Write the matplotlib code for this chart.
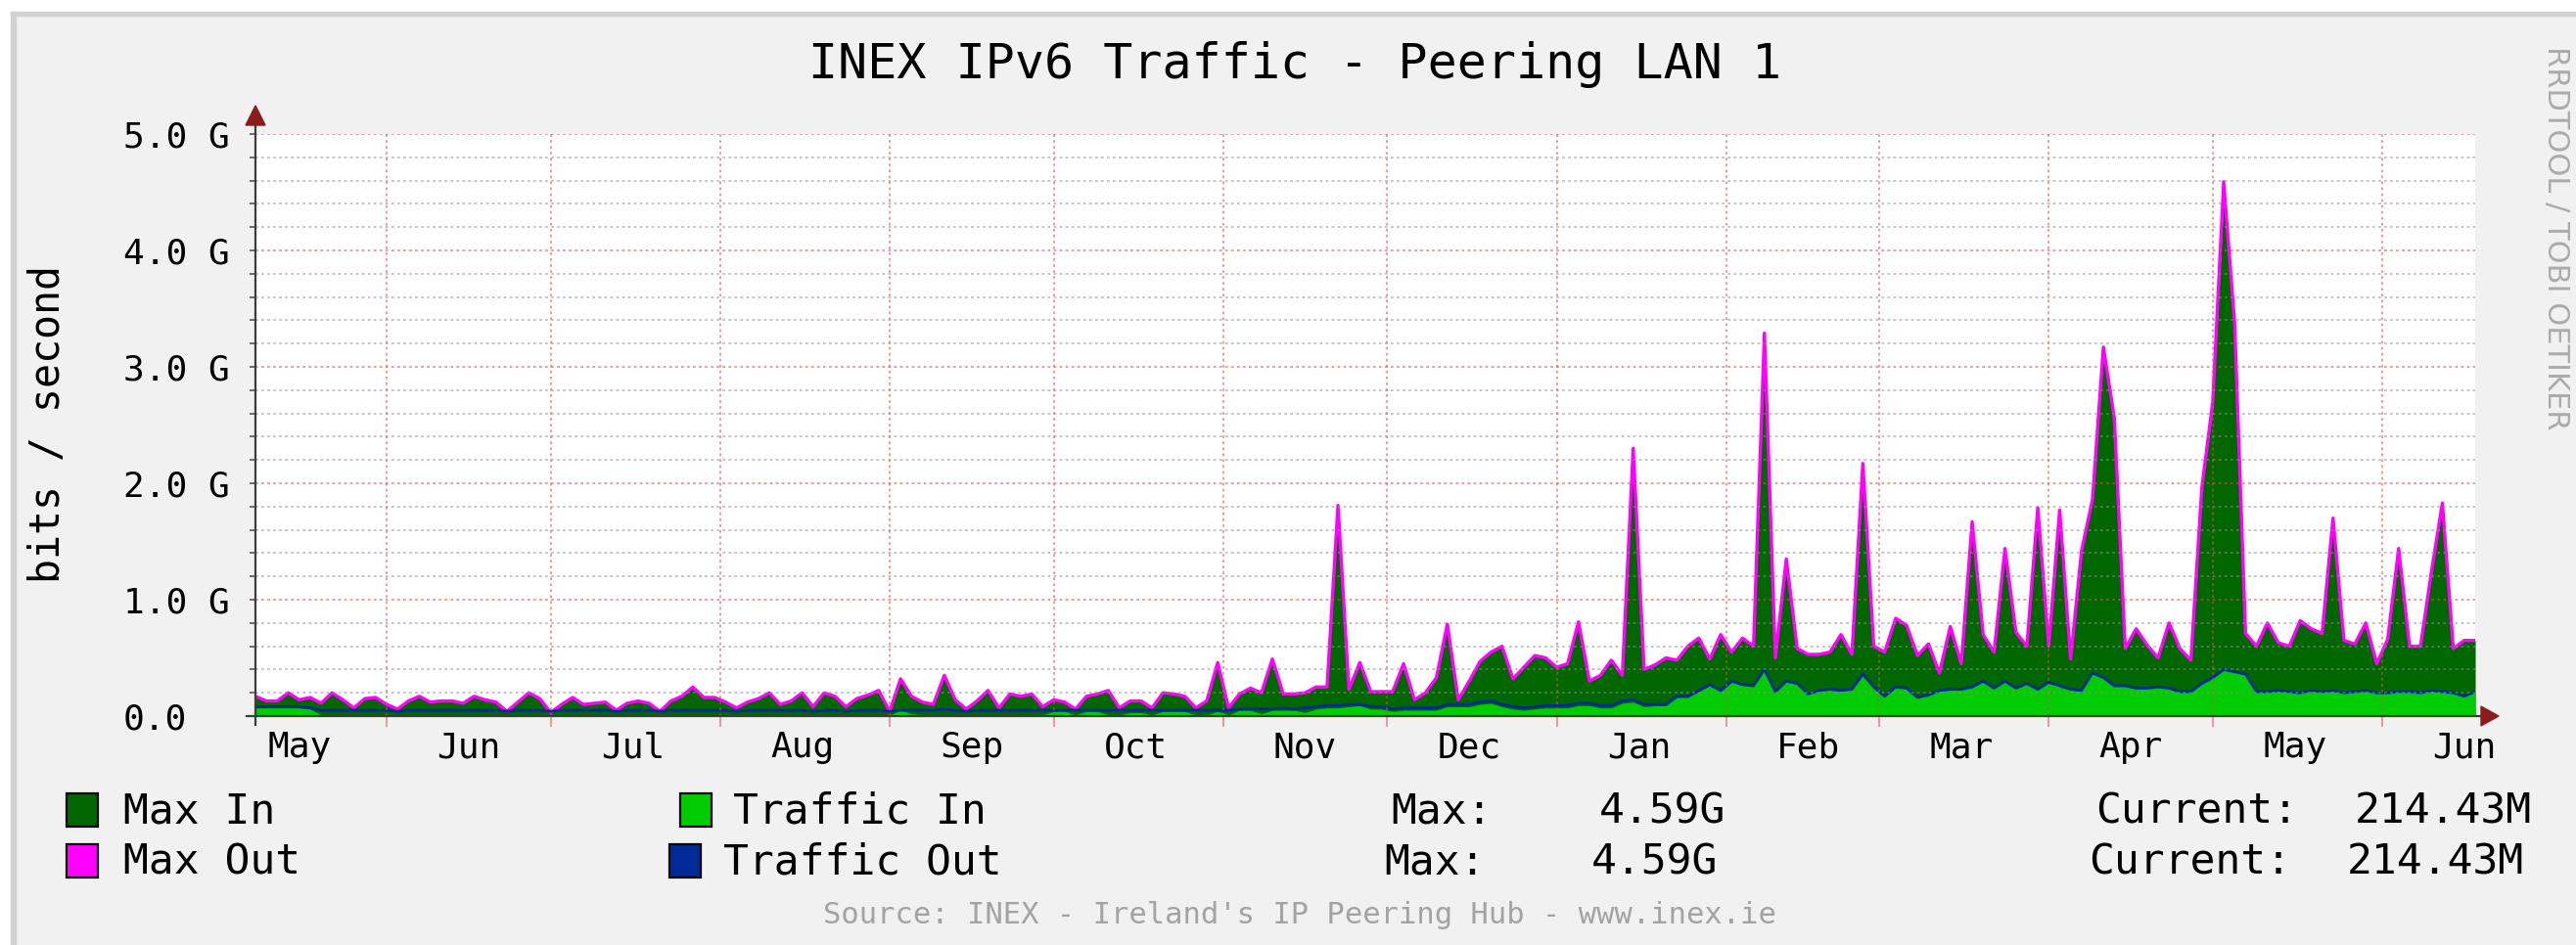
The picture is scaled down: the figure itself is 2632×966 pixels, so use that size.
import numpy as np
import matplotlib
matplotlib.use('Agg')
import matplotlib.pyplot as plt
import matplotlib.dates as mdates
import matplotlib.transforms as mtransforms
from matplotlib.patches import Rectangle, Polygon
from matplotlib.ticker import FixedLocator, MultipleLocator, NullFormatter

# ---------------- data (Gbit/s, one value every 2 days) ----------------
start_date = '2012-05-08'
step_days = 2

max_in = [
    0.17, 0.13, 0.13, 0.20, 0.14, 0.16, 0.11, 0.20, 0.14, 0.07, 0.15, 0.16, 0.10, 0.06, 0.13, 0.17, 0.12,
    0.13, 0.13, 0.11, 0.17, 0.14, 0.12, 0.04, 0.12, 0.20, 0.15, 0.03, 0.10, 0.16, 0.10, 0.11, 0.12, 0.05,
    0.11, 0.13, 0.11, 0.04, 0.13, 0.17, 0.25, 0.16, 0.16, 0.12, 0.07, 0.12, 0.15, 0.20, 0.10, 0.13, 0.20,
    0.08, 0.20, 0.17, 0.08, 0.15, 0.18, 0.22, 0.04, 0.32, 0.17, 0.12, 0.10, 0.35, 0.14, 0.06, 0.13, 0.22,
    0.07, 0.19, 0.17, 0.19, 0.08, 0.14, 0.12, 0.06, 0.17, 0.19, 0.22, 0.07, 0.13, 0.13, 0.07, 0.20, 0.19,
    0.17, 0.07, 0.13, 0.46, 0.07, 0.19, 0.24, 0.20, 0.49, 0.19, 0.19, 0.20, 0.25, 0.25, 1.81, 0.23, 0.46,
    0.21, 0.21, 0.21, 0.45, 0.14, 0.20, 0.33, 0.79, 0.14, 0.30, 0.47, 0.55, 0.60, 0.32, 0.42, 0.52, 0.50,
    0.42, 0.45, 0.81, 0.30, 0.35, 0.48, 0.35, 2.30, 0.40, 0.44, 0.50, 0.48, 0.60, 0.67, 0.49, 0.70, 0.55,
    0.67, 0.60, 3.29, 0.50, 1.35, 0.58, 0.53, 0.53, 0.55, 0.70, 0.53, 2.17, 0.60, 0.55, 0.84, 0.78, 0.52,
    0.62, 0.37, 0.77, 0.45, 1.67, 0.70, 0.55, 1.44, 0.72, 0.60, 1.79, 0.60, 1.77, 0.49, 1.42, 1.86, 3.10,
    2.50, 0.58, 0.75, 0.61, 0.50, 0.80, 0.58, 0.48, 1.96, 2.65, 4.45, 3.30, 0.71, 0.60, 0.80, 0.63, 0.60,
    0.82, 0.75, 0.71, 1.70, 0.65, 0.62, 0.80, 0.45, 0.66, 1.44, 0.60, 0.60, 1.24, 1.80, 0.58, 0.65, 0.65,
]

max_out = [
    0.17, 0.13, 0.13, 0.20, 0.14, 0.16, 0.11, 0.20, 0.14, 0.07, 0.15, 0.16, 0.10, 0.06, 0.13, 0.17, 0.12,
    0.13, 0.13, 0.11, 0.17, 0.14, 0.12, 0.04, 0.12, 0.20, 0.15, 0.03, 0.10, 0.16, 0.10, 0.11, 0.12, 0.05,
    0.11, 0.13, 0.11, 0.04, 0.13, 0.17, 0.25, 0.16, 0.16, 0.12, 0.07, 0.12, 0.15, 0.20, 0.10, 0.13, 0.20,
    0.08, 0.20, 0.17, 0.08, 0.15, 0.18, 0.22, 0.04, 0.32, 0.17, 0.12, 0.10, 0.35, 0.14, 0.06, 0.13, 0.22,
    0.07, 0.19, 0.17, 0.19, 0.08, 0.14, 0.12, 0.06, 0.17, 0.19, 0.22, 0.07, 0.13, 0.13, 0.07, 0.20, 0.19,
    0.17, 0.07, 0.13, 0.46, 0.07, 0.19, 0.24, 0.20, 0.49, 0.19, 0.19, 0.20, 0.25, 0.25, 1.81, 0.23, 0.46,
    0.21, 0.21, 0.21, 0.45, 0.14, 0.20, 0.33, 0.79, 0.14, 0.30, 0.47, 0.55, 0.60, 0.32, 0.42, 0.52, 0.50,
    0.42, 0.45, 0.81, 0.30, 0.35, 0.48, 0.35, 2.30, 0.40, 0.44, 0.50, 0.48, 0.60, 0.67, 0.49, 0.70, 0.55,
    0.67, 0.60, 3.29, 0.50, 1.35, 0.58, 0.53, 0.53, 0.55, 0.70, 0.53, 2.17, 0.60, 0.55, 0.84, 0.78, 0.52,
    0.62, 0.37, 0.77, 0.45, 1.67, 0.70, 0.55, 1.44, 0.72, 0.60, 1.79, 0.60, 1.77, 0.49, 1.42, 1.86, 3.17,
    2.56, 0.58, 0.75, 0.61, 0.50, 0.80, 0.58, 0.48, 1.96, 2.70, 4.59, 3.38, 0.71, 0.60, 0.80, 0.63, 0.60,
    0.82, 0.75, 0.71, 1.70, 0.65, 0.62, 0.80, 0.45, 0.66, 1.44, 0.60, 0.60, 1.24, 1.83, 0.58, 0.65, 0.65,
]

traffic_in = [
    0.07, 0.07, 0.07, 0.07, 0.07, 0.06, 0.01, 0.01, 0.01, 0.01, 0.01, 0.01, 0.01, 0.01, 0.01, 0.01, 0.01,
    0.01, 0.01, 0.01, 0.01, 0.01, 0.01, 0.01, 0.01, 0.01, 0.01, 0.01, 0.01, 0.01, 0.01, 0.01, 0.01, 0.01,
    0.01, 0.01, 0.01, 0.01, 0.01, 0.01, 0.01, 0.01, 0.01, 0.01, 0.01, 0.01, 0.01, 0.01, 0.01, 0.01, 0.01,
    0.01, 0.01, 0.01, 0.01, 0.01, 0.01, 0.01, 0.01, 0.05, 0.02, 0.01, 0.01, 0.01, 0.01, 0.01, 0.01, 0.01,
    0.01, 0.01, 0.01, 0.01, 0.01, 0.04, 0.04, 0.01, 0.04, 0.04, 0.01, 0.01, 0.03, 0.03, 0.01, 0.04, 0.04,
    0.04, 0.01, 0.01, 0.04, 0.01, 0.05, 0.05, 0.02, 0.05, 0.05, 0.05, 0.03, 0.06, 0.07, 0.07, 0.08, 0.09,
    0.06, 0.06, 0.04, 0.05, 0.05, 0.05, 0.05, 0.08, 0.08, 0.08, 0.10, 0.11, 0.08, 0.06, 0.05, 0.06, 0.07,
    0.07, 0.07, 0.09, 0.09, 0.07, 0.07, 0.11, 0.12, 0.08, 0.09, 0.09, 0.16, 0.16, 0.21, 0.26, 0.21, 0.29,
    0.27, 0.26, 0.40, 0.21, 0.30, 0.28, 0.19, 0.22, 0.23, 0.22, 0.23, 0.36, 0.25, 0.17, 0.25, 0.24, 0.16,
    0.18, 0.22, 0.23, 0.23, 0.25, 0.30, 0.24, 0.30, 0.24, 0.28, 0.23, 0.29, 0.26, 0.23, 0.22, 0.37, 0.33,
    0.26, 0.26, 0.24, 0.24, 0.25, 0.24, 0.21, 0.21, 0.28, 0.33, 0.40, 0.38, 0.36, 0.21, 0.21, 0.22, 0.21,
    0.20, 0.22, 0.21, 0.22, 0.20, 0.21, 0.22, 0.20, 0.20, 0.21, 0.21, 0.20, 0.22, 0.21, 0.20, 0.17, 0.21,
]

traffic_out = [
    0.08, 0.08, 0.08, 0.08, 0.08, 0.07, 0.05, 0.05, 0.05, 0.05, 0.05, 0.05, 0.05, 0.04, 0.05, 0.05, 0.05,
    0.05, 0.05, 0.05, 0.05, 0.05, 0.05, 0.04, 0.05, 0.05, 0.05, 0.04, 0.05, 0.05, 0.05, 0.05, 0.05, 0.04,
    0.05, 0.05, 0.05, 0.04, 0.05, 0.05, 0.05, 0.05, 0.05, 0.05, 0.04, 0.05, 0.05, 0.05, 0.05, 0.05, 0.05,
    0.04, 0.05, 0.05, 0.04, 0.05, 0.05, 0.05, 0.04, 0.05, 0.05, 0.05, 0.05, 0.06, 0.05, 0.04, 0.05, 0.05,
    0.05, 0.05, 0.05, 0.05, 0.05, 0.05, 0.05, 0.05, 0.05, 0.05, 0.05, 0.05, 0.05, 0.05, 0.05, 0.05, 0.05,
    0.05, 0.05, 0.05, 0.05, 0.05, 0.06, 0.06, 0.06, 0.06, 0.07, 0.06, 0.07, 0.08, 0.09, 0.09, 0.10, 0.10,
    0.08, 0.08, 0.06, 0.07, 0.07, 0.07, 0.07, 0.10, 0.10, 0.10, 0.12, 0.13, 0.10, 0.08, 0.07, 0.08, 0.09,
    0.09, 0.09, 0.11, 0.11, 0.09, 0.09, 0.13, 0.14, 0.10, 0.10, 0.10, 0.17, 0.17, 0.22, 0.27, 0.22, 0.30,
    0.27, 0.26, 0.40, 0.21, 0.30, 0.28, 0.19, 0.22, 0.23, 0.22, 0.23, 0.36, 0.25, 0.17, 0.25, 0.24, 0.16,
    0.18, 0.22, 0.23, 0.23, 0.25, 0.30, 0.24, 0.30, 0.24, 0.28, 0.23, 0.29, 0.26, 0.23, 0.22, 0.37, 0.33,
    0.26, 0.26, 0.24, 0.24, 0.25, 0.24, 0.21, 0.21, 0.28, 0.33, 0.40, 0.38, 0.36, 0.21, 0.21, 0.22, 0.21,
    0.20, 0.22, 0.21, 0.22, 0.20, 0.21, 0.22, 0.20, 0.20, 0.21, 0.21, 0.20, 0.22, 0.21, 0.20, 0.17, 0.21,
]

y_ticks = [0, 1, 2, 3, 4, 5]
y_tick_labels = ['0.0', '1.0 G', '2.0 G', '3.0 G', '4.0 G', '5.0 G']
title = 'INEX IPv6 Traffic - Peering LAN 1'
y_label = 'bits / second'
legend_names = ['Max In', 'Traffic In', 'Max Out', 'Traffic Out']
legend_colors = ['#006600', '#00cc00', '#ff00ff', '#002a97']
stat_max = ['4.59G', '4.59G']
stat_current = ['214.43M', '214.43M']
source_text = "Source: INEX - Ireland's IP Peering Hub - www.inex.ie"
credit_text = 'RRDTOOL / TOBI OETIKER'

# ---------------- layout ----------------
W, H, DPI = 2632, 966, 100
MONO = 'DejaVu Sans Mono'
plt.rcParams['font.family'] = [MONO, 'DejaVu Sans']

fig = plt.figure(figsize=(W / DPI, H / DPI), dpi=DPI, facecolor='#f1f1f1')


def fx(px):
    return px / W


def fy(py):
    return 1 - py / H


# white page margin and light frame (top / left)
fig.patches.append(Rectangle((0, fy(12)), 1, 12 / H, transform=fig.transFigure, color='white', zorder=0))
fig.patches.append(Rectangle((0, 0), fx(11), 1, transform=fig.transFigure, color='white', zorder=0))
fig.patches.append(Rectangle((fx(11), fy(16)), 1, 4 / H, transform=fig.transFigure, color='#d2d2d2', zorder=0))
fig.patches.append(Rectangle((fx(11), 0), 5 / W, fy(12), transform=fig.transFigure, color='#d2d2d2', zorder=0))

AX_L, AX_R, AX_T, AX_B = 261, 2529, 137, 732
ax = fig.add_axes([fx(AX_L), fy(AX_B), (AX_R - AX_L) / W, (AX_B - AX_T) / H])
ax.set_facecolor('white')

dates = np.datetime64(start_date) + np.arange(len(max_in)) * np.timedelta64(step_days, 'D')
x = mdates.date2num(dates)

ax.fill_between(x, 0, max_in, color='#006600', lw=0, zorder=1.1)
ax.plot(x, max_out, color='#ff00ff', lw=2.4, zorder=1.2)
ax.fill_between(x, 0, traffic_in, color='#00cc00', lw=0, zorder=1.3)
ax.plot(x, traffic_out, color='#002a97', lw=2.0, zorder=1.4)

ax.set_xlim(x[0], x[-1])
ax.set_ylim(y_ticks[0], y_ticks[-1])

# grid (drawn above the graph, like rrdtool)
ax.yaxis.set_major_locator(FixedLocator(y_ticks))
ax.yaxis.set_minor_locator(MultipleLocator(0.2))
ax.xaxis.set_major_locator(mdates.MonthLocator())
ax.xaxis.set_major_formatter(NullFormatter())
ax.xaxis.set_minor_locator(mdates.MonthLocator(bymonthday=16))
ax.xaxis.set_minor_formatter(mdates.DateFormatter('%b'))
ax.set_axisbelow('line')
dots = (0, (1.3, 1.6))
ax.grid(True, which='major', axis='both', color='#de5050', alpha=0.55, lw=1.5, linestyle=dots)
ax.grid(True, which='minor', axis='y', color='#8f8f8f', alpha=0.5, lw=1.5, linestyle=dots)

for s in ax.spines.values():
    s.set_visible(False)

ax.tick_params(axis='y', which='both', direction='out', length=4, width=1.2, color='#555555', labelleft=False)
ax.tick_params(axis='x', which='major', direction='out', length=8, width=1.5, color='#eb9a9a')
ax.tick_params(axis='x', which='minor', length=0, labelsize=26, pad=11, labelcolor='black')

# y tick labels, left aligned like rrdtool
ytrans = mtransforms.blended_transform_factory(fig.transFigure, ax.transData)
for v, lab in zip(y_ticks, y_tick_labels):
    ax.text(fx(126), v, lab, transform=ytrans, ha='left', va='center_baseline', fontsize=26, clip_on=False)

# axis lines + arrows
fig.add_artist(plt.Line2D([fx(AX_L), fx(AX_L)], [fy(741), fy(126)], transform=fig.transFigure,
                          color='#3c3c3c', lw=1.6))
fig.add_artist(plt.Line2D([fx(252), fx(2537)], [fy(AX_B), fy(AX_B)], transform=fig.transFigure,
                          color='#3c3c3c', lw=1.6))
fig.patches.append(Polygon([(fx(AX_L), fy(108)), (fx(AX_L - 10), fy(128)), (fx(AX_L + 10), fy(128))],
                           closed=True, transform=fig.transFigure, color='#8b1c1c', zorder=5))
fig.patches.append(Polygon([(fx(2553), fy(AX_B)), (fx(2535), fy(AX_B - 10)), (fx(2535), fy(AX_B + 10))],
                           closed=True, transform=fig.transFigure, color='#8b1c1c', zorder=5))

# title, axis label, source, credit
fig.text(fx(1323), fy(80), title, ha='center', va='baseline', fontsize=36)
fig.text(fx(49), fy(434), y_label, ha='center', va='center', rotation=90, fontsize=30)
fig.text(fx(1328), fy(944), source_text, ha='center', va='baseline', fontsize=22, color='#a3a3a3')
fig.text(fx(2612), fy(243), credit_text, ha='center', va='center', rotation=270, fontsize=22,
         color='#ababab', family='DejaVu Sans')

# legend
box_x = [68, 695, 68, 684]
text_x = [126, 749, 126, 739]
row_y = [828, 880]
rows = [0, 0, 1, 1]
for i, (name, col) in enumerate(zip(legend_names, legend_colors)):
    yc = row_y[rows[i]]
    fig.patches.append(Rectangle((fx(box_x[i]), fy(yc + 17)), 32 / W, 34 / H, transform=fig.transFigure,
                                 facecolor=col, edgecolor='black', lw=1.6, zorder=3))
    fig.text(fx(text_x[i]), fy(yc + 14), name, ha='left', va='baseline', fontsize=31)

max_x = [1421, 1414]
maxv_x = [1634, 1626]
cur_x = [2141, 2134]
curv_x = [2406, 2398]
for r in range(2):
    yb = fy(row_y[r] + 14)
    fig.text(fx(max_x[r]), yb, 'Max:', ha='left', va='baseline', fontsize=31)
    fig.text(fx(maxv_x[r]), yb, stat_max[r], ha='left', va='baseline', fontsize=31)
    fig.text(fx(cur_x[r]), yb, 'Current:', ha='left', va='baseline', fontsize=31)
    fig.text(fx(curv_x[r]), yb, stat_current[r], ha='left', va='baseline', fontsize=31)

fig.savefig('out.png', dpi=DPI, facecolor=fig.get_facecolor())
